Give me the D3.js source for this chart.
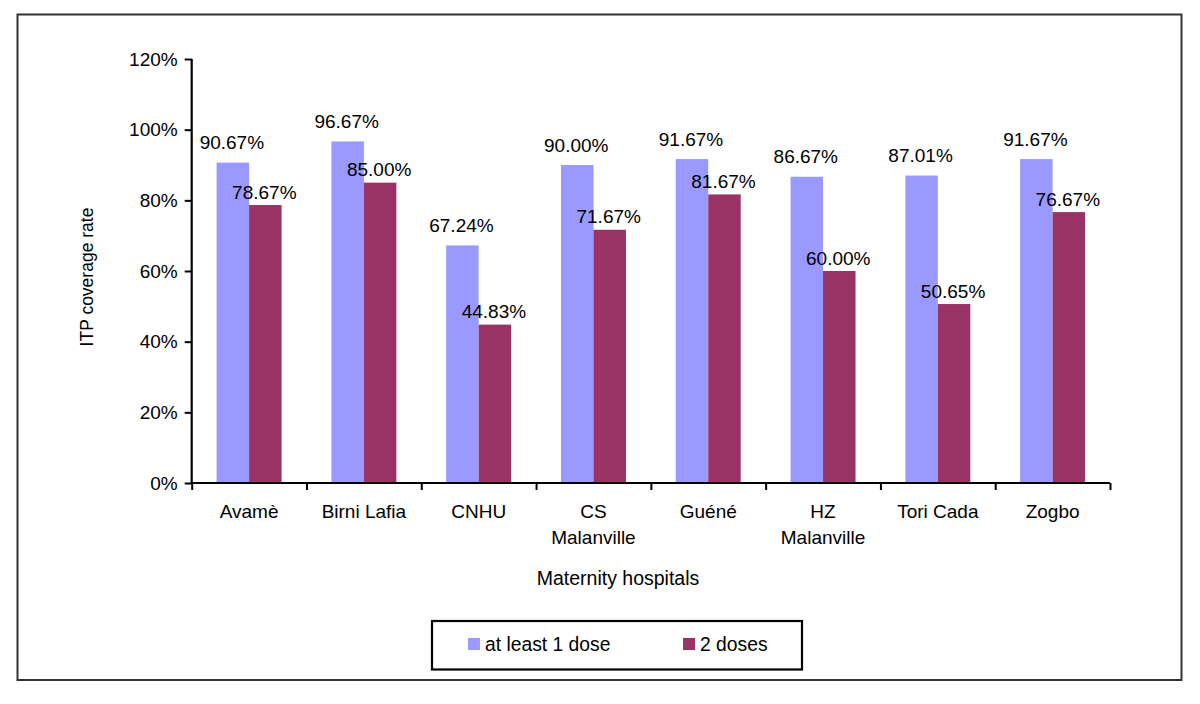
<!DOCTYPE html>
<html>
<head>
<meta charset="utf-8">
<script src="https://cdn.jsdelivr.net/npm/d3@7"></script>
<style>
  html, body { margin: 0; padding: 0; background: #fff; }
  svg { display: block; font-family: "Liberation Sans", Arial, Helvetica, sans-serif; }
</style>
</head>
<body>
<svg id="chart" width="1200" height="704"></svg>
<script>
// ---- data ----
const categories = ["Avamè", "Birni Lafia", "CNHU", "CS\nMalanville", "Guéné", "HZ\nMalanville", "Tori Cada", "Zogbo"];
const seriesNames = ["at least 1 dose", "2 doses"];
const atLeastOneDose = [90.67, 96.67, 67.24, 90.00, 91.67, 86.67, 87.01, 91.67];
const twoDoses = [78.67, 85.00, 44.83, 71.67, 81.67, 60.00, 50.65, 76.67];
const yTicks = [0, 20, 40, 60, 80, 100, 120];
const yTitle = "ITP coverage rate";
const xTitle = "Maternity hospitals";

(function () {
const colors = ["#9999FF", "#993366"];
const seriesValues = [atLeastOneDose, twoDoses];

const svg = d3.select("#chart");
const FONT = 19;

// outer frame
svg.append("rect")
  .attr("x", 17.5).attr("y", 14.5).attr("width", 1164).attr("height", 665.5)
  .attr("fill", "#fff").attr("stroke", "#333").attr("stroke-width", 2);

const pLeft = 191.7, pRight = 1110, pTop = 59, pBottom = 483;

const y = d3.scaleLinear().domain([0, 120]).range([pBottom, pTop]);
const x0 = d3.scaleBand().domain(d3.range(categories.length)).range([pLeft, pRight])
  .paddingInner(0.434).paddingOuter(0.217);
const x1 = d3.scaleBand().domain(d3.range(seriesNames.length)).range([0, x0.bandwidth()]).padding(0);
const xb = d3.scaleLinear().domain([0, categories.length]).range([pLeft, pRight]);

// bars
const groups = svg.append("g").selectAll("g")
  .data(categories.map((c, i) => i))
  .join("g")
  .attr("transform", i => `translate(${x0(i)},0)`);

groups.selectAll("rect")
  .data(i => seriesValues.map((vals, s) => ({ s, v: vals[i] })))
  .join("rect")
  .attr("x", d => x1(d.s))
  .attr("y", d => y(d.v))
  .attr("width", x1.bandwidth())
  .attr("height", d => y(0) - y(d.v))
  .attr("fill", d => colors[d.s]);

// value labels
groups.selectAll("text")
  .data(i => seriesValues.map((vals, s) => ({ s, v: vals[i] })))
  .join("text")
  .attr("x", d => x1(d.s) + x1.bandwidth() / 2 - 1)
  .attr("y", d => y(d.v) - (d.s === 0 ? 13.5 : 6.5))
  .attr("text-anchor", "middle")
  .attr("font-size", FONT)
  .attr("fill", "#000")
  .text(d => d.v.toFixed(2) + "%");

// y axis
const yAxis = svg.append("g")
  .attr("transform", `translate(${pLeft},0)`)
  .call(d3.axisLeft(y).tickValues(yTicks).tickFormat(d => d + "%").tickSize(7).tickPadding(7));
yAxis.select(".domain").attr("stroke", "#000").attr("stroke-width", 2.2)
  .attr("d", `M0,${pTop}V${pBottom}`);
yAxis.selectAll(".tick line").attr("stroke", "#000").attr("stroke-width", 2);
yAxis.selectAll(".tick text").attr("font-size", FONT).attr("font-family", "Liberation Sans, Arial, sans-serif").attr("fill", "#000");

// x axis boundary ticks
const xAxis = svg.append("g")
  .attr("transform", `translate(0,${pBottom})`)
  .call(d3.axisBottom(xb).tickValues(d3.range(categories.length + 1)).tickFormat("").tickSize(7));
xAxis.select(".domain").attr("stroke", "#000").attr("stroke-width", 2.2)
  .attr("d", `M${pLeft},0H${pRight}`);
xAxis.selectAll(".tick line").attr("stroke", "#000").attr("stroke-width", 2);

// category labels
const catLabels = svg.append("g").selectAll("text")
  .data(categories)
  .join("text")
  .attr("x", (d, i) => x0(i) + x0.bandwidth() / 2)
  .attr("y", 517.5)
  .attr("text-anchor", "middle")
  .attr("font-size", FONT)
  .attr("fill", "#000");
catLabels.each(function(d) {
  const lines = d.split("\n");
  const t = d3.select(this);
  lines.forEach((ln, k) => {
    t.append("tspan")
      .attr("x", t.attr("x"))
      .attr("dy", k === 0 ? 0 : 26)
      .text(ln);
  });
});

// axis titles
svg.append("text")
  .attr("x", 618).attr("y", 585)
  .attr("text-anchor", "middle")
  .attr("font-size", 19.5)
  .attr("fill", "#000")
  .text(xTitle);

svg.append("text")
  .attr("transform", "translate(93,277) rotate(-90)")
  .attr("text-anchor", "middle")
  .attr("font-size", 17.5)
  .attr("fill", "#000")
  .text(yTitle);

// legend
const legend = svg.append("g");
legend.append("rect")
  .attr("x", 432).attr("y", 621).attr("width", 370).attr("height", 48.5)
  .attr("fill", "#fff").attr("stroke", "#000").attr("stroke-width", 2.2);
const legendX = [468, 683];
seriesNames.forEach((name, s) => {
  legend.append("rect")
    .attr("x", legendX[s]).attr("y", 638).attr("width", 12).attr("height", 12)
    .attr("fill", colors[s]);
  legend.append("text")
    .attr("x", legendX[s] + 17).attr("y", 650.5)
    .attr("font-size", 19.3)
    .attr("fill", "#000")
    .text(name);
});
})();
</script>
</body>
</html>
